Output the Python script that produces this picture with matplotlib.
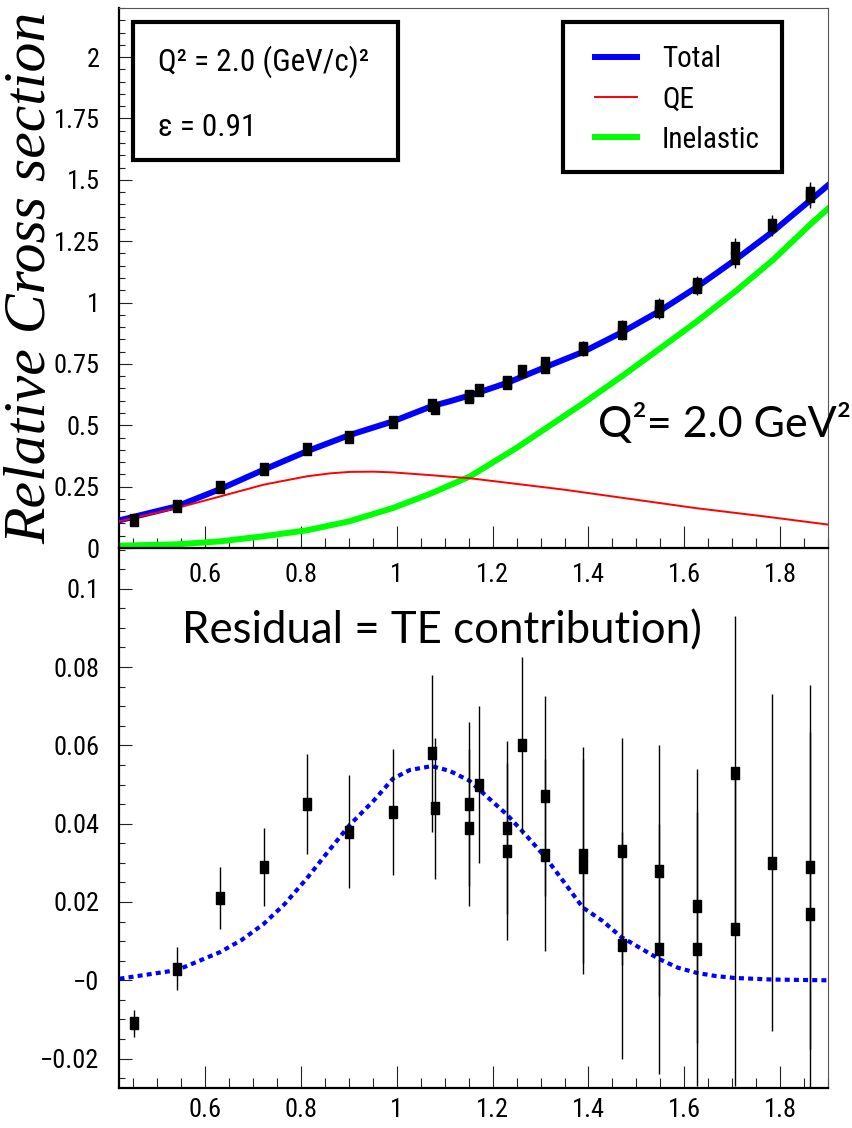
import numpy as np
import matplotlib.pyplot as plt
from matplotlib.patches import Rectangle
from matplotlib.ticker import FixedLocator, MultipleLocator

# --- data ---
# fitted curves, upper panel
x_total = [0.421, 0.541, 0.631, 0.722, 0.812, 0.901, 0.992, 1.073, 1.111, 1.153,
           1.232, 1.310, 1.390, 1.470, 1.548, 1.627, 1.707, 1.786, 1.865, 1.902]
y_total = [0.113, 0.170, 0.240, 0.319, 0.394, 0.460, 0.516, 0.578, 0.598, 0.622,
           0.674, 0.737, 0.800, 0.879, 0.965, 1.064, 1.175, 1.291, 1.420, 1.481]

x_qe = [0.421, 0.541, 0.631, 0.722, 0.812, 0.860, 0.901, 0.951, 0.992, 1.069, 1.153,
        1.348, 1.487, 1.626, 1.766, 1.902]
y_qe = [0.109, 0.163, 0.210, 0.258, 0.292, 0.304, 0.310, 0.311, 0.308, 0.297, 0.284,
        0.238, 0.200, 0.162, 0.129, 0.095]

x_inel = [0.421, 0.541, 0.631, 0.722, 0.812, 0.901, 0.992, 1.071, 1.153, 1.250,
          1.390, 1.470, 1.548, 1.627, 1.707, 1.786, 1.865, 1.902]
y_inel = [0.0095, 0.015, 0.027, 0.048, 0.072, 0.109, 0.163, 0.222, 0.292, 0.408,
          0.591, 0.700, 0.811, 0.924, 1.046, 1.175, 1.322, 1.386]

# measured points (same x in both panels)
x_data = [0.451, 0.541, 0.631, 0.722, 0.812, 0.901, 0.992, 1.0725, 1.080, 1.151,
          1.151, 1.171, 1.230, 1.230, 1.261, 1.309, 1.309, 1.388, 1.388, 1.469,
          1.469, 1.548, 1.548, 1.626, 1.626, 1.705, 1.705, 1.783, 1.862, 1.862]
y_data = [0.113, 0.173, 0.250, 0.323, 0.404, 0.454, 0.514, 0.583, 0.571, 0.620,
          0.614, 0.643, 0.678, 0.672, 0.723, 0.754, 0.739, 0.815, 0.811, 0.900,
          0.876, 0.985, 0.965, 1.075, 1.064, 1.222, 1.182, 1.315, 1.445, 1.433]
residual = [-0.011, 0.003, 0.021, 0.029, 0.045, 0.038, 0.043, 0.058, 0.044, 0.045,
            0.039, 0.050, 0.039, 0.033, 0.060, 0.047, 0.032, 0.032, 0.029, 0.033,
            0.009, 0.028, 0.008, 0.019, 0.008, 0.053, 0.013, 0.030, 0.029, 0.017]
err = [0.0035, 0.0055, 0.008, 0.010, 0.0127, 0.0145, 0.016, 0.020, 0.018, 0.021,
       0.020, 0.020, 0.022, 0.0226, 0.0226, 0.0255, 0.0245, 0.0275, 0.0275, 0.029,
       0.029, 0.032, 0.032, 0.035, 0.035, 0.040, 0.040, 0.043, 0.0465, 0.0465]

# TE fit, lower panel
x_te = [0.421, 0.541, 0.631, 0.676, 0.722, 0.766, 0.812, 0.856, 0.901, 0.951, 0.992,
        1.027, 1.0725, 1.110, 1.151, 1.190, 1.230, 1.270, 1.309, 1.350, 1.388, 1.430,
        1.468, 1.510, 1.548, 1.587, 1.626, 1.665, 1.705, 1.783, 1.900]
y_te = [0.0004, 0.0026, 0.0072, 0.0103, 0.0144, 0.0195, 0.026, 0.0328, 0.0396, 0.0458,
        0.0515, 0.0537, 0.0547, 0.0535, 0.051, 0.0467, 0.0423, 0.037, 0.0316, 0.0249,
        0.0186, 0.0151, 0.0111, 0.0081, 0.0054, 0.0032, 0.0019, 0.0011, 0.0006, 0.0002, 0.0]

x_ticks = [0.6, 0.8, 1.0, 1.2, 1.4, 1.6, 1.8]
x_ticklabels = ["0.6", "0.8", "1", "1.2", "1.4", "1.6", "1.8"]
top_yticks = [0, 0.25, 0.5, 0.75, 1.0, 1.25, 1.5, 1.75, 2.0]
top_yticklabels = ["0", "0.25", "0.5", "0.75", "1", "1.25", "1.5", "1.75", "2"]
bot_yticks = [-0.02, 0, 0.02, 0.04, 0.06, 0.08, 0.1]
bot_yticklabels = ["\u22120.02", "\u22120", "0.02", "0.04", "0.06", "0.08", "0.1"]

narrow = ["Liberation Sans Narrow", "Roboto Condensed", "Noto Sans Condensed",
          "DejaVu Sans Condensed", "Liberation Sans", "DejaVu Sans"]
plt.rcParams['font.family'] = narrow

W, H = 853, 1128
fig = plt.figure(figsize=(W / 100, H / 100), dpi=100)
axTop = fig.add_axes([119 / W, 1 - 548 / H, 709 / W, 540 / H])
axBot = fig.add_axes([119 / W, 1 - 1088 / H, 709 / W, 540 / H])
axTop.set_zorder(3)
axTop.patch.set_alpha(0)


def style(ax, yticks, ylabels, ymin, ymax, yminor, xpad):
    ax.set_xlim(0.42, 1.90)
    ax.set_ylim(ymin, ymax)
    ax.xaxis.set_major_locator(FixedLocator(x_ticks))
    ax.set_xticklabels(x_ticklabels)
    ax.xaxis.set_minor_locator(MultipleLocator(0.05))
    ax.yaxis.set_major_locator(FixedLocator(yticks))
    ax.set_yticklabels(ylabels)
    ax.yaxis.set_minor_locator(MultipleLocator(yminor))
    ax.tick_params(which='both', direction='in', top=False, right=False,
                   labelsize=19, width=0.8, color='#222222')
    ax.tick_params(axis='x', which='major', length=16, pad=xpad)
    ax.tick_params(axis='x', which='minor', length=7)
    ax.tick_params(axis='y', which='major', length=9, pad=14)
    ax.tick_params(axis='y', which='minor', length=4.5)
    for s in ['left', 'bottom']:
        ax.spines[s].set_linewidth(1.6)
        ax.spines[s].set_color('black')
    for s in ['top', 'right']:
        ax.spines[s].set_linewidth(0.8)
        ax.spines[s].set_color('#555555')


style(axTop, top_yticks, top_yticklabels, 0, 2.2, 0.05, 11)
style(axBot, bot_yticks, bot_yticklabels, -0.0275, 0.1104, 0.005, 7)

# upper panel
axTop.plot(x_inel, y_inel, color='#00ff00', lw=4.3, label='Inelastic', zorder=2,
           solid_joinstyle='round')
axTop.plot(x_total, y_total, color='#0000ff', lw=4.3, label='Total', zorder=3,
           solid_joinstyle='round')
axTop.plot(x_qe, y_qe, color='#ff0000', lw=1.4, label='QE', zorder=4)
box_marker = [(-0.32, -0.5), (0.32, -0.5), (0.32, 0.5), (-0.32, 0.5), (-0.32, -0.5)]
axTop.errorbar(x_data, y_data, yerr=err, fmt='none', ecolor='black', elinewidth=1.0,
               capsize=0, zorder=5)
axTop.plot(x_data, y_data, linestyle='none', marker=box_marker, markersize=8.5,
           color='black', zorder=6)

# info box
axTop.add_patch(Rectangle(((133 - 119) / 709, (548 - 160) / 540),
                          (398 - 133) / 709, 138 / 540, transform=axTop.transAxes,
                          facecolor='white', edgecolor='black', lw=3, zorder=7))
axTop.text((158 - 119) / 709, (548 - 62) / 540, "Q\u00b2 = 2.0 (GeV/c)\u00b2",
           transform=axTop.transAxes, fontsize=22.5, va='center', ha='left', zorder=8)
axTop.text((158 - 119) / 709, (548 - 128) / 540, "\u03b5 = 0.91",
           transform=axTop.transAxes, fontsize=22.5, va='center', ha='left', zorder=8)

# legend box
axTop.add_patch(Rectangle(((563 - 119) / 709, (548 - 172) / 540),
                          (782 - 563) / 709, 150 / 540, transform=axTop.transAxes,
                          facecolor='white', edgecolor='black', lw=3, zorder=7))
h = axTop.get_legend_handles_labels()[0]
leg = axTop.legend([h[1], h[2], h[0]], ['Total', 'QE', 'Inelastic'],
                   loc='upper left', bbox_to_anchor=((595 - 119) / 709, (548 - 45) / 540),
                   frameon=False, fontsize=21, borderpad=0, borderaxespad=0,
                   handlelength=1.45, handletextpad=0.85, labelspacing=0.42)
leg.set_zorder(8)

axTop.text((598 - 119) / 709, (548 - 437) / 540, "Q\u00b2= 2.0 GeV\u00b2",
           transform=axTop.transAxes, fontsize=31, family='Lato',
           va='baseline', ha='left', zorder=8, clip_on=False)

# lower panel
axBot.plot(x_te, y_te, color='#0000ff', lw=3, linestyle=(0, (1.2, 1.0)),
           dash_capstyle='butt', zorder=2)
axBot.errorbar(x_data, residual, yerr=err, fmt='none', ecolor='black', elinewidth=1.0,
               capsize=0, zorder=3)
axBot.plot(x_data, residual, linestyle='none', marker=box_marker, markersize=8.5,
           color='black', zorder=4)
axBot.text((182 - 119) / 709, (1088 - 643) / 540, "Residual = TE contribution)",
           transform=axBot.transAxes, fontsize=31.5, family='Lato',
           va='baseline', ha='left')

fig.text(31 / W, 1 - 278 / H, "Relative Cross section", rotation=90,
         family='Liberation Serif', style='italic', fontsize=43,
         ha='center', va='center')

fig.savefig("out.png", dpi=100)
